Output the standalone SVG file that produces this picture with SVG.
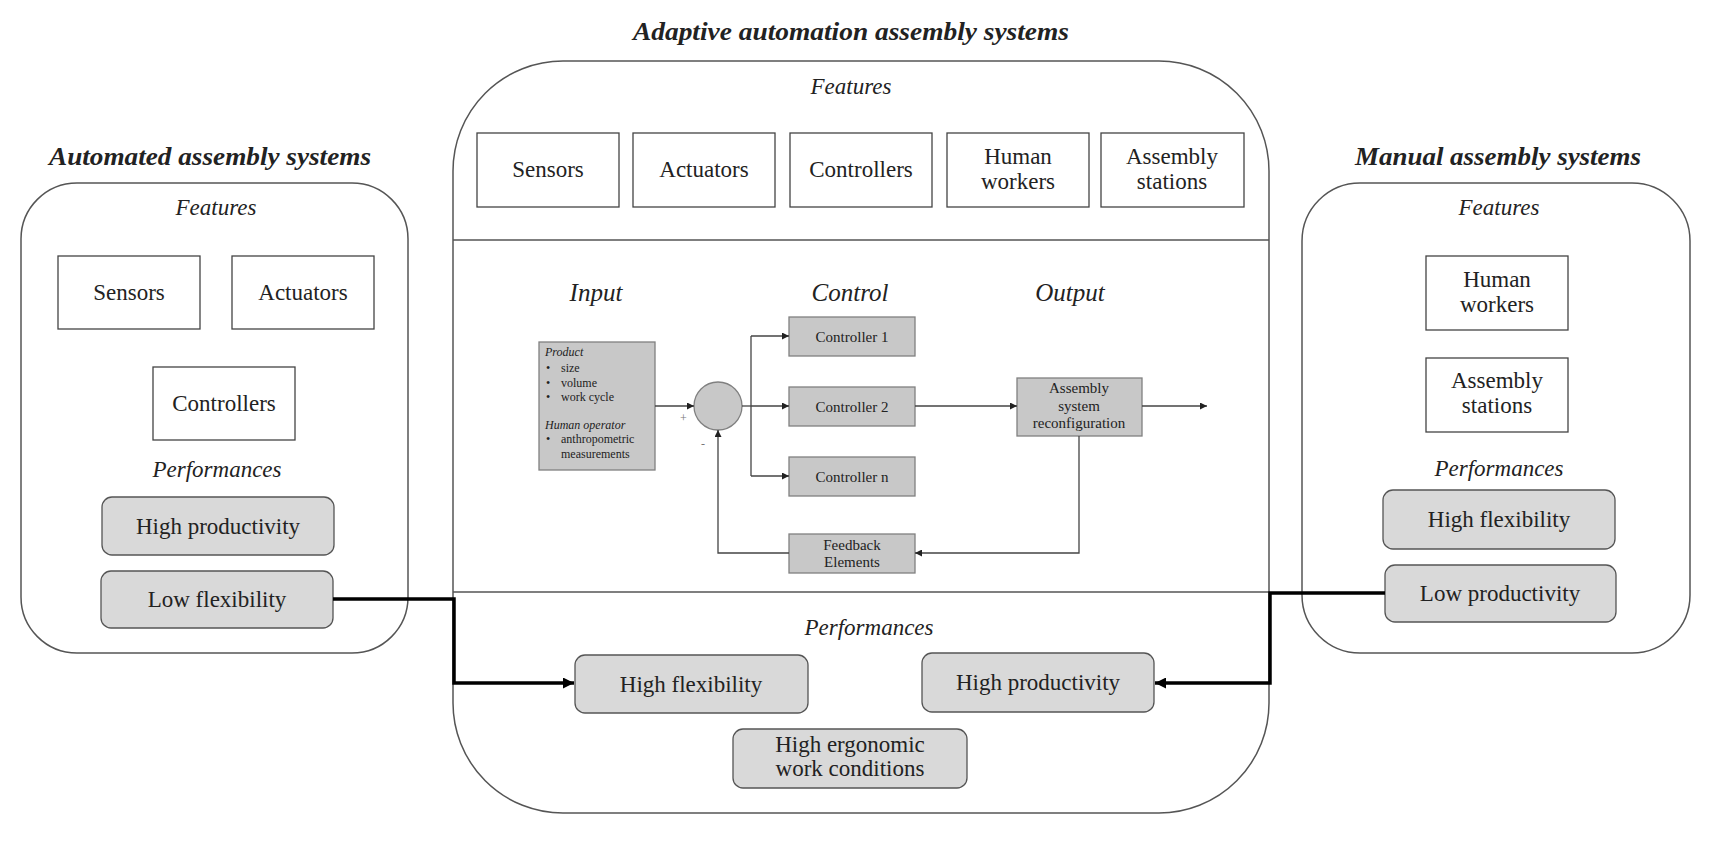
<svg xmlns="http://www.w3.org/2000/svg" width="1722" height="842" viewBox="0 0 1722 842">
<style>
text{font-family:"Liberation Serif","Times New Roman",serif;fill:#222;text-anchor:middle}
.title{font-size:25px;font-weight:bold;font-style:italic}
.sec{font-size:23px;font-style:italic}
.lbl{font-size:23px}
.big{font-size:25px;font-style:italic}
.ctl{font-size:15px}
.sm{font-size:12px;text-anchor:start}
.smi{font-size:12px;font-style:italic;text-anchor:start}
.outer{fill:#fff;stroke:#555;stroke-width:1.5}
.feat{fill:#fff;stroke:#444;stroke-width:1.3}
.perf{fill:#d9d9d9;stroke:#555;stroke-width:1.3}
.cbox{fill:#c8c8c8;stroke:#808080;stroke-width:1.3}
.div{stroke:#555;stroke-width:1.5}
.thin{fill:none;stroke:#444;stroke-width:1.3}
.thick{fill:none;stroke:#000;stroke-width:3.5}
</style>
<defs>
<marker id="as" viewBox="0 0 10 10" refX="10" refY="5" markerWidth="8" markerHeight="7" markerUnits="userSpaceOnUse" orient="auto"><path d="M0,0 L10,5 L0,10 z" fill="#222"/></marker>
<marker id="ab" viewBox="0 0 10 10" refX="10" refY="5" markerWidth="13" markerHeight="11" markerUnits="userSpaceOnUse" orient="auto"><path d="M0,0 L10,5 L0,10 z" fill="#000"/></marker>
</defs>
<rect width="1722" height="842" fill="#fff"/>

<g id="automated">
<text class="title" x="210" y="165" textLength="322" lengthAdjust="spacingAndGlyphs">Automated assembly systems</text>
<rect class="outer" x="21" y="183" width="387" height="470" rx="56"/>
<text class="sec" x="216" y="215">Features</text>
<g id="a-sensors"><rect class="feat" x="58" y="256" width="142" height="73"/><text class="lbl" x="129" y="300">Sensors</text></g>
<g id="a-actuators"><rect class="feat" x="232" y="256" width="142" height="73"/><text class="lbl" x="303" y="300">Actuators</text></g>
<g id="a-controllers"><rect class="feat" x="153" y="367" width="142" height="73"/><text class="lbl" x="224" y="411">Controllers</text></g>
<text class="sec" x="217" y="477">Performances</text>
<g id="a-highprod"><rect class="perf" x="102" y="497" width="232" height="58" rx="10"/><text class="lbl" x="218" y="534">High productivity</text></g>
<g id="a-lowflex"><rect class="perf" x="101" y="571" width="232" height="57" rx="10"/><text class="lbl" x="217" y="607">Low flexibility</text></g>
</g>

<g id="manual">
<text class="title" x="1498" y="165" textLength="286" lengthAdjust="spacingAndGlyphs">Manual assembly systems</text>
<rect class="outer" x="1302" y="183" width="388" height="470" rx="58"/>
<text class="sec" x="1499" y="215">Features</text>
<g id="m-human"><rect class="feat" x="1426" y="256" width="142" height="74"/><text class="lbl" x="1497" y="287">Human</text><text class="lbl" x="1497" y="312">workers</text></g>
<g id="m-stations"><rect class="feat" x="1426" y="358" width="142" height="74"/><text class="lbl" x="1497" y="388">Assembly</text><text class="lbl" x="1497" y="413">stations</text></g>
<text class="sec" x="1499" y="476">Performances</text>
<g id="m-highflex"><rect class="perf" x="1383" y="490" width="232" height="59" rx="10"/><text class="lbl" x="1499" y="527">High flexibility</text></g>
<g id="m-lowprod"><rect class="perf" x="1385" y="565" width="231" height="57" rx="10"/><text class="lbl" x="1500" y="601">Low productivity</text></g>
</g>

<g id="adaptive">
<text class="title" x="851" y="40" textLength="436" lengthAdjust="spacingAndGlyphs">Adaptive automation assembly systems</text>
<rect class="outer" x="453" y="61" width="816" height="752" rx="110"/>
<line class="div" x1="453" y1="240" x2="1269" y2="240"/>
<line class="div" x1="453" y1="592" x2="1269" y2="592"/>
<text class="sec" x="851" y="94">Features</text>
<g id="c-sensors"><rect class="feat" x="477" y="133" width="142" height="74"/><text class="lbl" x="548" y="177">Sensors</text></g>
<g id="c-actuators"><rect class="feat" x="633" y="133" width="142" height="74"/><text class="lbl" x="704" y="177">Actuators</text></g>
<g id="c-controllers"><rect class="feat" x="790" y="133" width="142" height="74"/><text class="lbl" x="861" y="177">Controllers</text></g>
<g id="c-human"><rect class="feat" x="947" y="133" width="142" height="74"/><text class="lbl" x="1018" y="164">Human</text><text class="lbl" x="1018" y="189">workers</text></g>
<g id="c-stations"><rect class="feat" x="1101" y="133" width="143" height="74"/><text class="lbl" x="1172" y="164">Assembly</text><text class="lbl" x="1172" y="189">stations</text></g>

<text class="big" x="596" y="301">Input</text>
<text class="big" x="850" y="301">Control</text>
<text class="big" x="1070" y="301">Output</text>

<g id="input">
<rect class="cbox" x="539" y="342" width="116" height="128"/>
<text class="smi" x="545" y="356">Product</text>
<text class="sm" x="546" y="372">•</text><text class="sm" x="561" y="372">size</text>
<text class="sm" x="546" y="387">•</text><text class="sm" x="561" y="387">volume</text>
<text class="sm" x="546" y="401">•</text><text class="sm" x="561" y="401">work cycle</text>
<text class="smi" x="545" y="429">Human operator</text>
<text class="sm" x="546" y="443">•</text><text class="sm" x="561" y="443">anthropometric</text>
<text class="sm" x="561" y="458">measurements</text>
</g>
<g id="sum"><circle cx="718" cy="406" r="24" fill="#c8c8c8" stroke="#808080" stroke-width="1.3"/>
<text class="sm" x="680" y="422" style="fill:#777">+</text><text class="sm" x="701" y="448" style="fill:#777">-</text></g>
<g id="ctrl1"><rect class="cbox" x="789" y="317" width="126" height="39"/><text class="ctl" x="852" y="342">Controller 1</text></g>
<g id="ctrl2"><rect class="cbox" x="789" y="387" width="126" height="39"/><text class="ctl" x="852" y="412">Controller 2</text></g>
<g id="ctrln"><rect class="cbox" x="789" y="457" width="126" height="39"/><text class="ctl" x="852" y="482">Controller n</text></g>
<g id="feedback"><rect class="cbox" x="789" y="534" width="126" height="39"/><text class="ctl" x="852" y="550">Feedback</text><text class="ctl" x="852" y="567">Elements</text></g>
<g id="reconf"><rect class="cbox" x="1017" y="378" width="125" height="58"/><text class="ctl" x="1079" y="393">Assembly</text><text class="ctl" x="1079" y="411">system</text><text class="ctl" x="1079" y="428">reconfiguration</text></g>

<text class="sec" x="869" y="635">Performances</text>
<g id="c-highflex"><rect class="perf" x="575" y="655" width="233" height="58" rx="10"/><text class="lbl" x="691" y="692">High flexibility</text></g>
<g id="c-highprod"><rect class="perf" x="922" y="653" width="232" height="59" rx="10"/><text class="lbl" x="1038" y="690">High productivity</text></g>
<g id="c-ergo"><rect class="perf" x="733" y="729" width="234" height="59" rx="10"/><text class="lbl" x="850" y="752">High ergonomic</text><text class="lbl" x="850" y="776">work conditions</text></g>
</g>

<g id="connectors">
<line class="thin" x1="655" y1="406" x2="694" y2="406" marker-end="url(#as)"/>
<line class="thin" x1="742" y1="406" x2="751" y2="406"/>
<line class="thin" x1="751" y1="336" x2="751" y2="476"/>
<line class="thin" x1="751" y1="336" x2="789" y2="336" marker-end="url(#as)"/>
<line class="thin" x1="751" y1="406" x2="789" y2="406" marker-end="url(#as)"/>
<line class="thin" x1="751" y1="476" x2="789" y2="476" marker-end="url(#as)"/>
<line class="thin" x1="915" y1="406" x2="1017" y2="406" marker-end="url(#as)"/>
<line class="thin" x1="1142" y1="406" x2="1207" y2="406" marker-end="url(#as)"/>
<path class="thin" d="M1079,436 V553 H915" marker-end="url(#as)"/>
<path class="thin" d="M789,553 H718 V430" marker-end="url(#as)"/>
<path class="thick" d="M333,599 H454 V683 H574" marker-end="url(#ab)"/>
<path class="thick" d="M1385,593 H1270 V683 H1155" marker-end="url(#ab)"/>
</g>
</svg>
